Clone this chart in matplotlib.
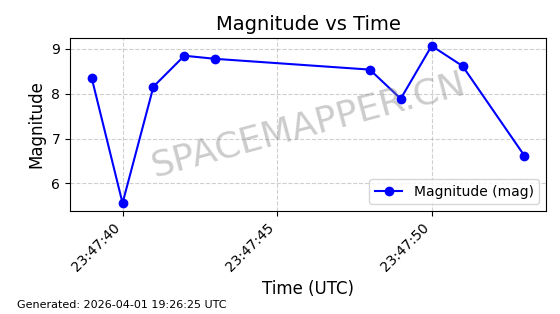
import datetime as dt

import matplotlib
matplotlib.use("Agg")
import matplotlib.dates as mdates
import matplotlib.pyplot as plt

SECONDS = [39, 40, 41, 42, 43, 48, 49, 50, 51, 53]
MAGNITUDES = [8.36, 5.56, 8.16, 8.85, 8.78, 8.54, 7.89, 9.07, 8.62, 6.62]

times = [dt.datetime(2026, 3, 31, 23, 47, s) for s in SECONDS]

fig, ax = plt.subplots(figsize=(5.6, 3.14), dpi=100)
fig.subplots_adjust(left=0.125, right=0.975, top=0.879, bottom=0.328)

ax.plot(times, MAGNITUDES, marker="o", color="blue", linewidth=1.5,
        markersize=6, label="Magnitude (mag)")
ax.set_title("Magnitude vs Time", fontsize=14)
ax.set_xlabel("Time (UTC)", fontsize=12)
ax.set_ylabel("Magnitude", fontsize=12)
ax.xaxis.set_major_locator(mdates.SecondLocator(bysecond=range(0, 60, 5)))
ax.xaxis.set_major_formatter(mdates.DateFormatter("%H:%M:%S"))
plt.setp(ax.get_xticklabels(), rotation=45, ha="right")
ax.grid(True, linestyle="--", alpha=0.6)
ax.legend(loc="lower right")

ax.text(0.5, 0.5, "SPACEMAPPER.CN", transform=ax.transAxes, fontsize=26,
        color="gray", alpha=0.4, rotation=15, ha="center", va="center")
fig.text(0.03, 0.02, "Generated: 2026-04-01 19:26:25 UTC", fontsize=8)

fig.savefig("out.png", dpi=100)
